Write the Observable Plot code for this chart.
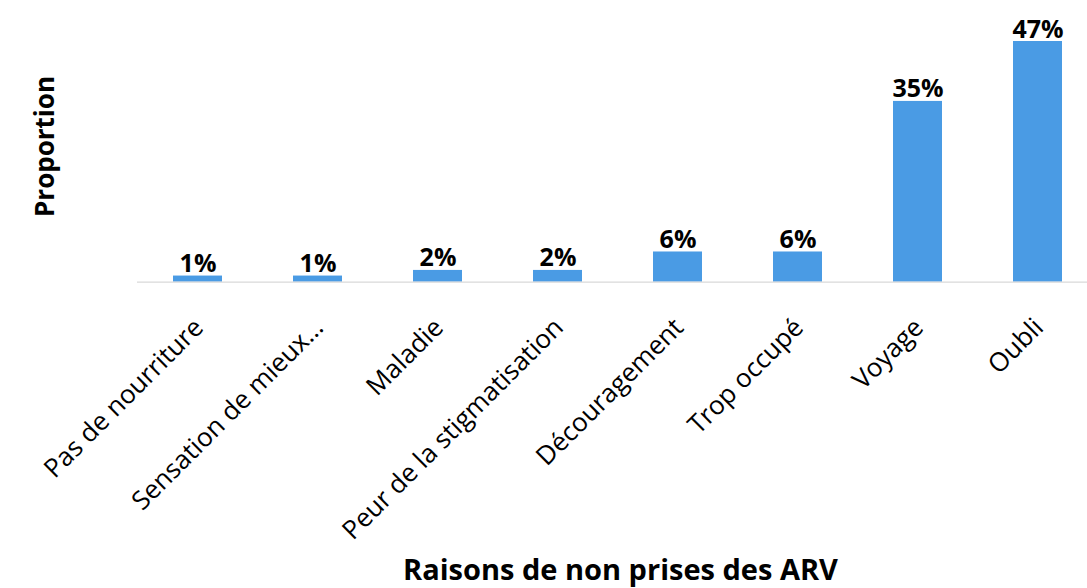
<!DOCTYPE html>
<html>
<head>
<meta charset="utf-8">
<script src="https://cdn.jsdelivr.net/npm/d3@7"></script>
<script src="https://cdn.jsdelivr.net/npm/@observablehq/plot@0.6"></script>
<style>
  html, body { margin: 0; padding: 0; background: #fff; }
  #chart svg { display: block; }
</style>
</head>
<body>
<div id="chart"></div>
<script>
const categories = ["Pas de nourriture", "Sensation de mieux…", "Maladie", "Peur de la stigmatisation", "Découragement", "Trop occupé", "Voyage", "Oubli"];
const values = [1.2, 1.2, 2.3, 2.3, 5.9, 5.9, 35.3, 47.0];
const labels = ["1%", "1%", "2%", "2%", "6%", "6%", "35%", "47%"];
const xTitle = "Raisons de non prises des ARV";
const yTitle = "Proportion";

const data = categories.map((c, i) => ({cat: c, val: values[i], lab: labels[i]}));
const font = "'Open Sans', 'Noto Sans', sans-serif";

const chart = Plot.plot({
  width: 1087,
  height: 588,
  marginLeft: 137,
  marginRight: 0,
  marginTop: 0,
  marginBottom: 0,
  style: {fontFamily: font, background: "#fff", color: "#000"},
  x: {domain: categories, range: [137, 1099], paddingInner: 0.59, paddingOuter: 0.295, axis: null},
  y: {domain: [0, 47], range: [281.7, 41], axis: null},
  marks: [
    Plot.barY(data, {x: "cat", y: "val", fill: "#4a9be4"}),
    Plot.ruleY([0], {stroke: "#d9d9d9", strokeWidth: 1.2}),
    Plot.axisX({text: null, label: null, tickSize: 8, dx: -60.1, stroke: "#d9d9d9", strokeWidth: 1.2}),
    Plot.text(data, {x: "cat", y: "val", text: "lab", lineAnchor: "bottom", dy: -4, fontSize: 25, fontWeight: "bold", fill: "#000"}),
    Plot.text(data, {x: "cat", y: 0, text: "cat", rotate: -45, textAnchor: "end", lineAnchor: "middle", dx: 1, dy: 41, fontSize: 26, fill: "#000"}),
    Plot.text([yTitle], {frameAnchor: "left", textAnchor: "middle", dx: -92, dy: -148, rotate: -90, fontSize: 26, fontWeight: "bold", fill: "#000"}),
    Plot.text([xTitle], {frameAnchor: "bottom", textAnchor: "middle", dx: 8, dy: -9, lineAnchor: "bottom", fontSize: 29, fontWeight: "bold", fill: "#000"})
  ]
});
document.getElementById("chart").appendChild(chart);
</script>
</body>
</html>
